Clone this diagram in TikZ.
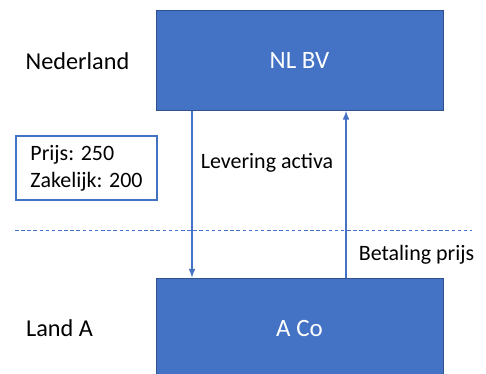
\documentclass[tikz,border=0pt]{standalone}
\usepackage{fontspec}
\setmainfont{Carlito}
\definecolor{ppblue}{HTML}{4472C4}
\definecolor{ppedge}{HTML}{2F528F}
\tikzset{
  entity/.style = {fill = ppblue, draw = ppedge, line width = 0.5pt, text = white,
    font = \fontsize{14.2}{17}\selectfont,
    minimum width = 5.74cm, minimum height = 2cm, inner sep = 0pt},
  land/.style = {font = \fontsize{13.8}{16}\selectfont},
  flow/.style = {ppblue, -latex, line width = 0.7pt}
}
\begin{document}
\begin{tikzpicture}[x = 0.02cm, y = -0.02cm, font = \fontsize{12.5}{15.5}\selectfont]
    \clip (0, 0) rectangle (486, 374);

    \node[entity] (nl) at (299.5, 60.5) {NL BV};
    \node[entity] (aco) at (299.5, 328) {A Co};

    \node[land] (nederland) at (77.5, 61) {Nederland};
    \node[land] (landa) at (59.5, 328) {Land A};

    \node[draw = ppblue, line width = 0.6pt, align = left, minimum width = 2.82cm,
      minimum height = 1.28cm, inner xsep = 7pt] (prijs) at (86.5, 168) {Prijs: 250\\Zakelijk: 200};

    \coordinate (lijn links) at (15, 230);
    \coordinate (lijn rechts) at (472, 230);
    \draw[ppblue, dashed, dash pattern = on 2pt off 1.5pt, line width = 0.5pt] (lijn links) -- (lijn rechts);

    \draw[flow] (nl.south -| 192, 0) -- (aco.north -| 192, 0);
    \draw[flow] (aco.north -| 346, 0) -- (nl.south -| 346, 0);

    \node (levering) at (267, 163) {Levering activa};
    \node (betaling) at (416.5, 255) {Betaling prijs};

  \end{tikzpicture}
\end{document}
